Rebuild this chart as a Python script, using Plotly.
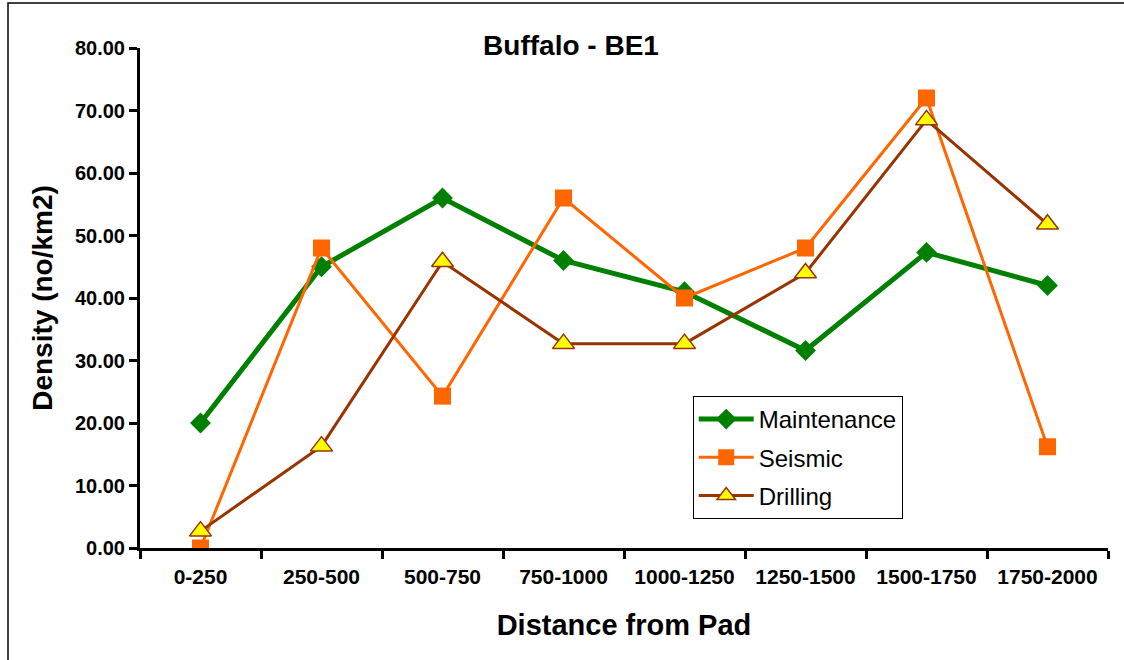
import plotly.graph_objects as go

distance = ['0-250', '250-500', '500-750', '750-1000', '1000-1250',
            '1250-1500', '1500-1750', '1750-2000']
maintenance = [20.0, 45.0, 56.0, 46.0, 41.0, 31.6, 47.3, 42.0]
seismic = [0.0, 48.0, 24.3, 56.0, 40.0, 48.0, 72.0, 16.2]
drilling = [2.7, 16.3, 45.8, 32.7, 32.7, 44.0, 68.5, 51.8]
y_ticks = [0, 10, 20, 30, 40, 50, 60, 70, 80]

FONT = 'Liberation Sans, Arial'

fig = go.Figure()
fig.add_trace(go.Scatter(
    x=distance, y=maintenance, name='Maintenance', mode='lines+markers',
    legendgroup='m',
    line=dict(color='#008000', width=5),
    marker=dict(symbol='diamond', size=16, color='#008000'),
))
fig.add_trace(go.Scatter(
    x=distance, y=seismic, name='Seismic', mode='lines+markers',
    legendgroup='s',
    line=dict(color='#FF6600', width=3),
    marker=dict(symbol='square', size=17, color='#FF6600'),
))
fig.add_trace(go.Scatter(
    x=distance, y=drilling, name='Drilling', mode='lines+markers',
    legendgroup='d',
    line=dict(color='#993300', width=3),
    marker=dict(symbol='triangle-up', size=19, color='#FFFF00',
                line=dict(color='#993300', width=1.5)),
))

fig.update_layout(
    width=1124, height=660,
    margin=dict(l=140, r=16, t=48, b=112),
    paper_bgcolor='white', plot_bgcolor='white',
    font=dict(family=FONT, color='black'),
    title=dict(text='<b>Buffalo - BE1</b>', x=0.508, xanchor='center',
               yref='container', y=1 - 45 / 660, yanchor='middle',
               font=dict(family=FONT, size=28, color='black')),
    showlegend=True,
    legend=dict(x=0.571, y=0.304, xanchor='left', yanchor='top',
                bordercolor='black', borderwidth=1, bgcolor='white',
                font=dict(family=FONT, size=24, color='black'),
                tracegroupgap=4, itemwidth=55),
    xaxis=dict(
        type='category', range=[-0.5, 7.5],
        showline=True, linecolor='black', linewidth=3,
        ticks='outside', tickson='boundaries', ticklen=8, tickwidth=3,
        tickcolor='black', showgrid=False, zeroline=False,
        ticklabelstandoff=8,
        tickfont=dict(family=FONT, size=21, color='black'),
        tickvals=distance, ticktext=['<b>%s</b>' % d for d in distance],
        title=dict(text='<b>Distance from Pad</b>', standoff=28,
                   font=dict(family=FONT, size=29, color='black')),
    ),
    yaxis=dict(
        range=[0, 80], tickvals=y_ticks,
        ticktext=['<b>%.2f</b>' % v for v in y_ticks],
        showline=True, linecolor='black', linewidth=3,
        ticks='outside', ticklen=8, tickwidth=3, tickcolor='black',
        showgrid=False, zeroline=False,
        tickfont=dict(family=FONT, size=20, color='black'),
        title=dict(text='<b>Density (no/km2)</b>', standoff=15,
                   font=dict(family=FONT, size=28, color='black')),
    ),
)

# outer frame around the whole chart (right and bottom edges fall off the page)
fig.add_shape(type='rect', xref='paper', yref='paper',
              x0=(8 - 140) / 968, x1=(1130 - 140) / 968,
              y0=(548 - 670) / 500, y1=(548 - 3) / 500,
              line=dict(color='black', width=1.5), layer='below')

fig.write_html('out.html', config={'displayModeBar': False},
               post_script="document.body.style.margin='0px';")
